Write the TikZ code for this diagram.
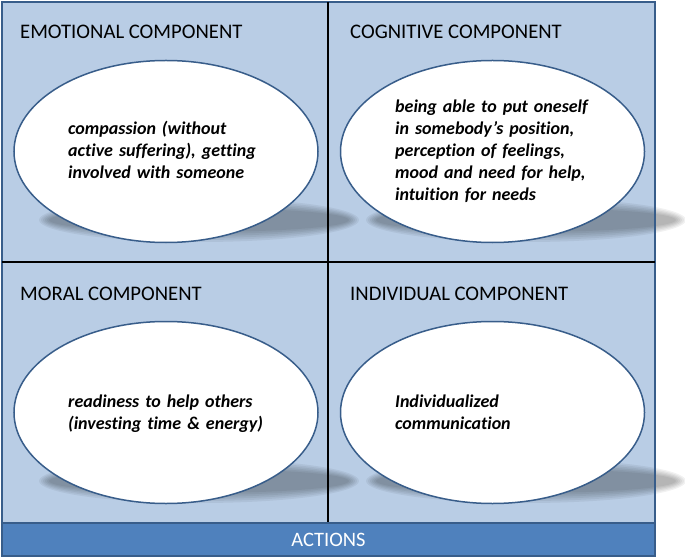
\documentclass[tikz,border=0pt]{standalone}
\usepackage{fontspec}
\setmainfont{Carlito}[Ligatures={NoCommon}]
\usetikzlibrary{shapes.geometric}
\definecolor{cellblue}{HTML}{B9CDE5}
\definecolor{barblue}{HTML}{4F81BD}
\definecolor{edgeblue}{HTML}{385D8A}
\begin{document}
\begin{tikzpicture}[x=1bp,y=-1bp,
  cellbox/.style={rectangle,fill=cellblue,draw=edgeblue,line width=1.2bp,inner sep=0pt,outer sep=0pt},
  oval/.style={ellipse,fill=white,draw=edgeblue,line width=1.5bp,inner sep=0pt,minimum width=304bp,minimum height=182bp},
  header/.style={anchor=base west,inner sep=0pt,font=\fontsize{20.7bp}{24bp}\selectfont},
  bodytext/.style={anchor=base west,inner sep=0pt,text width=260bp,align=left,font=\fontsize{18bp}{22bp}\selectfont\bfseries\itshape},
  divider/.style={draw=black,line width=2.4bp},
  shadowlayer/.style={fill=black,fill opacity=0.055}]
\useasboundingbox (0,0) rectangle (685,558);
% cells
\node[cellbox,minimum width=326bp,minimum height=260bp] (TL) at (165,132) {};
\node[cellbox,minimum width=327bp,minimum height=260bp] (TR) at (491.5,132) {};
\node[cellbox,minimum width=326bp,minimum height=261bp] (BL) at (165,392.5) {};
\node[cellbox,minimum width=327bp,minimum height=261bp] (BR) at (491.5,392.5) {};
% shadows
\foreach \cx/\cy in {199/220, 526/220, 199/481, 526/481}{
  \foreach \d in {5,3,1,-1,-3,-5}{
    \fill[shadowlayer] (\cx,\cy) ellipse [x radius=155+\d, y radius=17+\d];
  }
}
% outer border and dividers
\draw[edgeblue,line width=1.2bp] (TL.north west) rectangle (BR.south east);
\draw[divider] (TL.north east) -- (BL.south east);
\draw[divider] (TL.south west) -- (TR.south east);
% actions bar
\node[rectangle,fill=barblue,draw=edgeblue,line width=1.5bp,inner sep=0pt,minimum width=653bp,minimum height=33bp,
  text=white,font=\fontsize{20.5bp}{24bp}\selectfont] (act) at (328.5,539.5) {ACTIONS};
% headers
\node[header] (h1) at (20,39) {EMOTIONAL COMPONENT};
\node[header] (h2) at (350,39) {COGNITIVE COMPONENT};
\node[header] (h3) at (20,300) {MORAL COMPONENT};
\node[header] (h4) at (350,300) {INDIVIDUAL COMPONENT};
% ellipses
\node[oval] (e1) at (166,151.5) {};
\node[oval] (e2) at (492.5,151.5) {};
\node[oval] (e3) at (166,412.5) {};
\node[oval] (e4) at (492.5,412.5) {};
% texts
\node[bodytext] (t1) at (68,135) {compassion (without\\active suffering), getting\\involved with someone};
\node[bodytext] (t2) at (395,113) {being able to put oneself\\in somebody’s position,\\perception of feelings,\\mood and need for help,\\intuition for needs};
\node[bodytext] (t3) at (68,407) {readiness to help others\\(investing time \& energy)};
\node[bodytext] (t4) at (395,407) {Individualized\\communication};
\end{tikzpicture}
\end{document}
